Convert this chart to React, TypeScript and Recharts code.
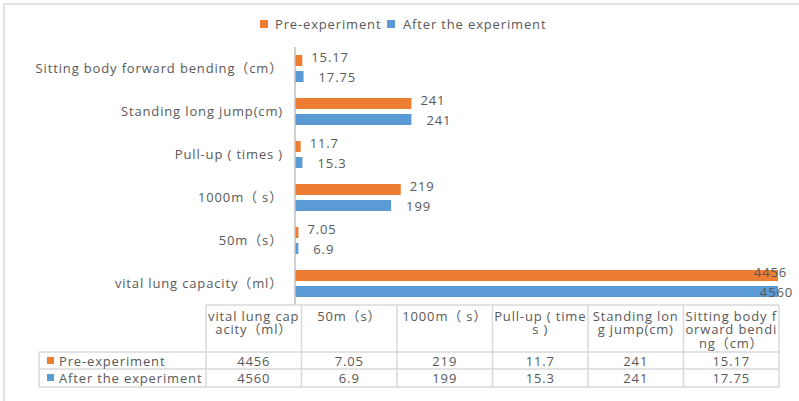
import React from 'react';
import { BarChart, Bar, XAxis, YAxis, LabelList } from 'recharts';

// Test items, in table order (first item is drawn at the bottom of the bar chart)
const categories = [
  'vital lung capacity（ml）',
  '50m（s）',
  '1000m（ s）',
  'Pull-up ( times )',
  'Standing long jump(cm)',
  'Sitting body forward bending（cm）',
];
const preValues = [4456, 7.05, 219, 11.7, 241, 15.17];
const afterValues = [4560, 6.9, 199, 15.3, 241, 17.75];
const seriesNames = ['Pre-experiment', 'After the experiment'];
// Column headings of the data table, wrapped as they appear in the cells
const headerLines = [
  ['vital lung cap', 'acity（ml）'],
  ['50m（s）'],
  ['1000m（ s）'],
  ['Pull-up ( time', 's )'],
  ['Standing lon', 'g jump(cm)'],
  ['Sitting body f', 'orward bendi', 'ng（cm）'],
];
const AXIS_MAX = 1000;

const data = categories.map((name, i) => ({
  name,
  pre: preValues[i],
  after: afterValues[i],
}));

const W = 799;
const H = 401;
const PLOT_LEFT = 295;
const PLOT_RIGHT = 778;
const PLOT_TOP = 47;
const PLOT_BOTTOM = 305;

const ORANGE = '#ED7D31';
const BLUE = '#5B9BD5';
const TEXT = '#595959';
const GRID = '#d9d9d9';
const FONT = '"Open Sans", "Noto Sans CJK SC", sans-serif';
const FS = 13;
const LS = 0.85;

// Value label placed just past the bar end; bars running past the axis
// maximum get their label right-aligned at the plot edge instead.
function makeLabel(dx: number, dy: number) {
  return (props: any) => {
    const vb = props.viewBox || props;
    const x = Number(vb.x);
    const y = Number(vb.y);
    const width = Number(vb.width);
    const height = Number(vb.height);
    const v = Number(props.value);
    if (!isFinite(x) || !isFinite(width) || !v) return null;
    const right = x + (AXIS_MAX * width) / v;
    const end = x + width;
    const cy = y + height / 2 + dy;
    const over = end > right + 0.5;
    return (
      <text
        x={over ? right + dx : end + dx}
        y={cy}
        textAnchor={over ? 'end' : 'start'}
        dominantBaseline="central"
        fill={TEXT}
        fontSize={FS}
        fontFamily={FONT}
        letterSpacing={LS}
      >
        {props.value}
      </text>
    );
  };
}

function Overlay() {
  const colLeft = 206;
  const colRight = 779;
  const colW = (colRight - colLeft) / categories.length;
  const keyLeft = 39;
  const headTop = PLOT_BOTTOM;
  const row1 = 352;
  const row2 = 369;
  const row3 = 387;
  const cols = categories.map((_, i) => colLeft + i * colW);
  const rows = [preValues, afterValues];
  const colors = [ORANGE, BLUE];
  const rowTops = [row1, row2];
  return (
    <svg
      width={W}
      height={H}
      style={{ position: 'absolute', left: 0, top: 0, pointerEvents: 'none' }}
      fontFamily={FONT}
      letterSpacing={LS}
    >
      {/* chart frame */}
      <rect x={4} y={4} width={W + 10} height={H + 10} fill="none" stroke={GRID} strokeWidth={1.5} />

      {/* legend */}
      <rect x={260} y={20} width={8} height={8} fill={ORANGE} />
      <text x={275} y={24} dominantBaseline="central" fontSize={FS} fill={TEXT}>
        {seriesNames[0]}
      </text>
      <rect x={387} y={20} width={8} height={8} fill={BLUE} />
      <text x={403} y={24} dominantBaseline="central" fontSize={FS} fill={TEXT}>
        {seriesNames[1]}
      </text>

      {/* data table grid */}
      <g stroke={GRID} strokeWidth={1.5} fill="none">
        <line x1={colLeft} y1={headTop} x2={colRight} y2={headTop} />
        <line x1={keyLeft} y1={row1} x2={colRight} y2={row1} />
        <line x1={keyLeft} y1={row2} x2={colRight} y2={row2} />
        <line x1={keyLeft} y1={row3} x2={colRight} y2={row3} />
        <line x1={keyLeft} y1={row1} x2={keyLeft} y2={row3} />
        {cols.map((cx, i) => (
          <line key={i} x1={cx} y1={headTop} x2={cx} y2={row3} />
        ))}
        <line x1={colRight} y1={headTop} x2={colRight} y2={row3} />
      </g>

      {/* column headings */}
      {headerLines.map((lines, i) =>
        lines.map((ln, j) => (
          <text
            key={`${i}-${j}`}
            x={cols[i] + colW / 2}
            y={315.5 + j * 13.6}
            textAnchor="middle"
            dominantBaseline="central"
            fontSize={FS}
            fill={TEXT}
          >
            {ln}
          </text>
        ))
      )}

      {/* series rows */}
      {rows.map((vals, r) => (
        <g key={r}>
          <rect x={47} y={rowTops[r] + 5} width={7} height={7} fill={colors[r]} />
          <text x={59} y={rowTops[r] + 9} dominantBaseline="central" fontSize={FS} fill={TEXT}>
            {seriesNames[r]}
          </text>
          {vals.map((v, i) => (
            <text
              key={i}
              x={cols[i] + colW / 2}
              y={rowTops[r] + 9}
              textAnchor="middle"
              dominantBaseline="central"
              fontSize={FS}
              fill={TEXT}
            >
              {v}
            </text>
          ))}
        </g>
      ))}
    </svg>
  );
}

export default function App() {
  return (
    <div
      style={{
        position: 'absolute',
        left: 0,
        top: 0,
        width: W,
        height: H,
        background: '#ffffff',
      }}
    >
      <BarChart
        width={W}
        height={H}
        data={data}
        layout="vertical"
        barSize={11}
        barGap={5}
        margin={{ top: PLOT_TOP, right: W - PLOT_RIGHT, bottom: H - PLOT_BOTTOM, left: 0 }}
      >
        <XAxis type="number" domain={[0, AXIS_MAX]} allowDataOverflow hide />
        <YAxis
          type="category"
          dataKey="name"
          reversed
          width={PLOT_LEFT}
          tickLine={false}
          tickSize={0}
          tickMargin={12}
          axisLine={{ stroke: '#bfbfbf', strokeWidth: 1.5 }}
          tick={{ fill: TEXT, fontSize: FS, fontFamily: FONT, letterSpacing: LS }}
          interval={0}
        />
        <Bar dataKey="pre" name={seriesNames[0]} fill={ORANGE} isAnimationActive={false}>
          <LabelList dataKey="pre" content={makeLabel(9, -3.5)} />
        </Bar>
        <Bar dataKey="after" name={seriesNames[1]} fill={BLUE} isAnimationActive={false}>
          <LabelList dataKey="after" content={makeLabel(15, 0)} />
        </Bar>
      </BarChart>
      <Overlay />
    </div>
  );
}
